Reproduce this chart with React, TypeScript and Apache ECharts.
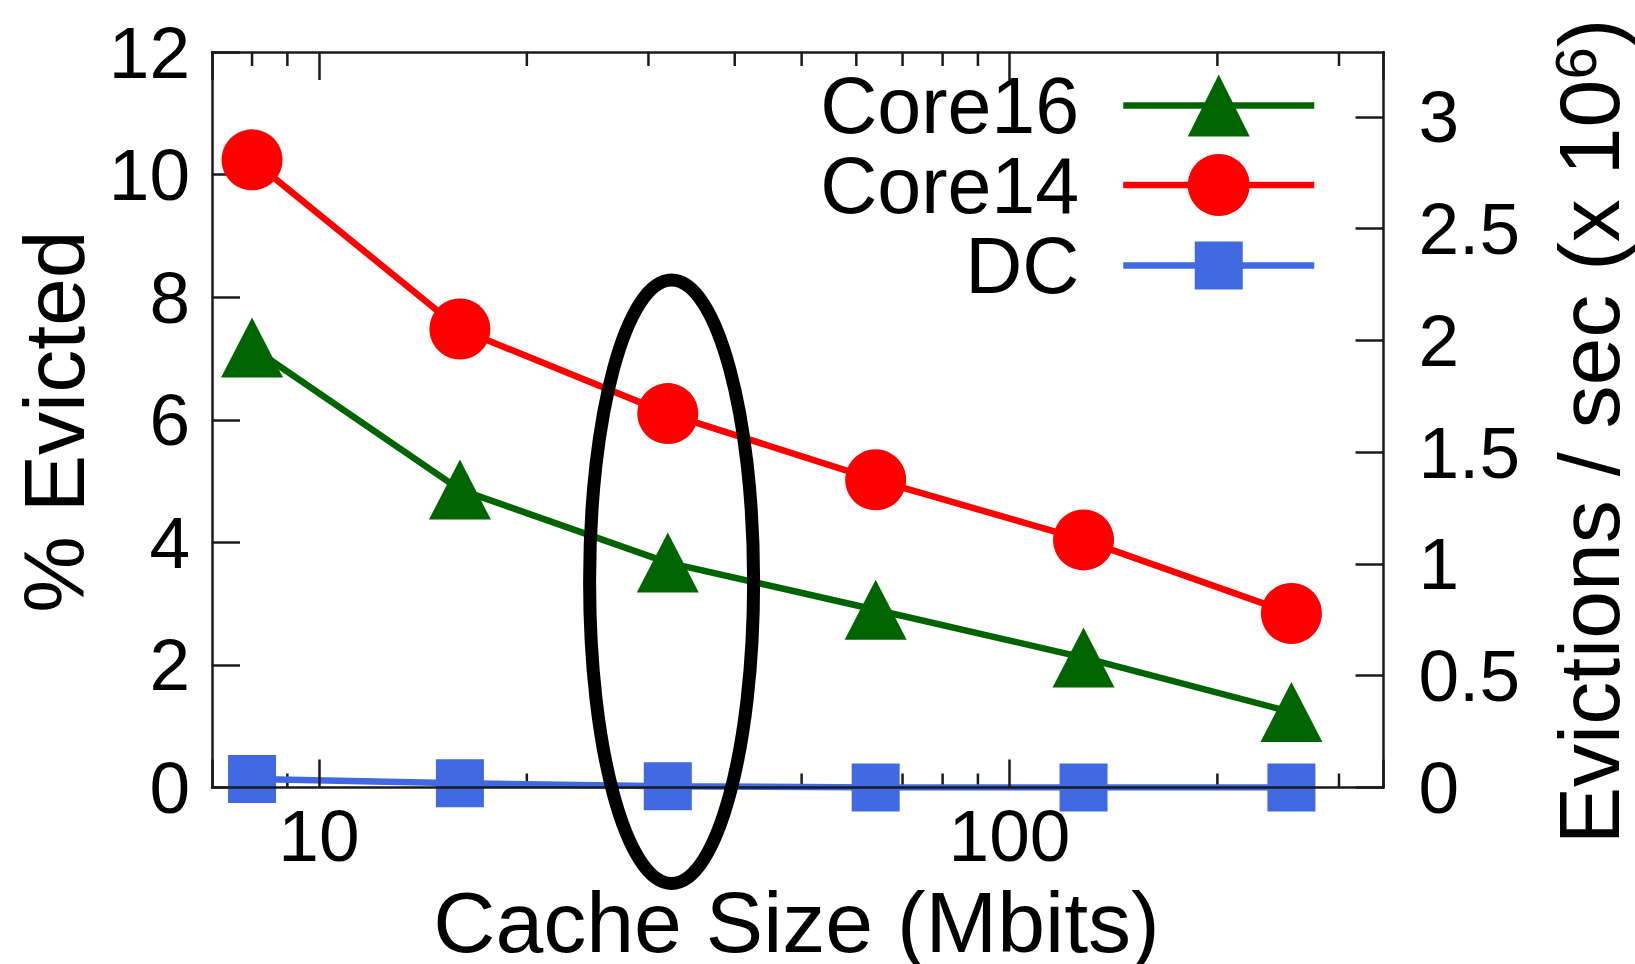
import React, { useEffect, useRef } from 'react';
import * as echarts from 'echarts';

// ---- data ----
const cacheSizes = [8, 16, 32, 64, 128, 256];
const core16 = [7.18, 4.86, 3.67, 2.9, 2.12, 1.23];
const core14 = [10.24, 7.48, 6.1, 5.02, 4.04, 2.84];
const dc = [0.14, 0.07, 0.02, 0, 0, 0];
const xMajorLabels = [10, 100];
const xMinorTicks = [8, 9, 20, 30, 40, 50, 60, 70, 80, 90, 200, 300];
const seriesNames = ['Core16', 'Core14', 'DC'];
const xTitle = 'Cache Size (Mbits)';
const yTitle = '% Evicted';
const y2TitleMain = 'Evictions / sec (x 10';
const y2TitleSup = '6';

const FONT = '"Liberation Sans", Arial, Helvetica, sans-serif';
const GREEN = '#006400';
const RED = '#ff0000';
const BLUE = '#4169e1';
const AXIS = '#1a1a1a';

export default function App() {
  const ref = useRef<HTMLDivElement>(null);

  useEffect(() => {
    document.body.style.margin = '0';
    document.body.style.overflow = 'hidden';
    if (!ref.current) return;
    const chart = echarts.init(ref.current, undefined, { renderer: 'svg' });

    const axisLineStyle = { color: AXIS, width: 2.5 };
    const tickLabel = { fontSize: 73, fontFamily: FONT, color: '#000' };

    const legendCommon = {
      orient: 'vertical',
      right: 317.5,
      align: 'right',
      itemWidth: 191,
      padding: 0,
      selectedMode: false,
      lineStyle: { width: 6.5 },
      textStyle: { fontSize: 79, lineHeight: 70, fontFamily: FONT, color: '#000', padding: [0, 39, 0, 0] },
    };

    const option: any = {
      animation: false,
      backgroundColor: '#ffffff',
      grid: { left: 212, right: 251.5, top: 52, bottom: 176.5, containLabel: false },
      xAxis: [
        {
          type: 'log',
          logBase: 10,
          min: 7,
          max: 348,
          position: 'bottom',
          z: 10,
          axisLine: { show: true, onZero: false, lineStyle: axisLineStyle },
          axisTick: { show: true, inside: true, length: 28, lineStyle: axisLineStyle },
          axisLabel: {
            ...tickLabel,
            margin: 11,
            hideOverlap: false,
            formatter: (v: number) => {
              const r = Math.round(v);
              return xMajorLabels.includes(r) && Math.abs(v - r) < 1e-6 * r + 1e-6 ? String(r) : '';
            },
          },
          splitLine: { show: false },
        },
        {
          type: 'log',
          logBase: 10,
          min: 7,
          max: 348,
          position: 'top',
          z: 10,
          axisLine: { show: true, onZero: false, lineStyle: axisLineStyle },
          axisTick: { show: true, inside: true, length: 28, lineStyle: axisLineStyle },
          axisLabel: { show: false },
          splitLine: { show: false },
        },
      ],
      yAxis: [
        {
          type: 'value',
          position: 'left',
          min: 0,
          max: 12,
          interval: 2,
          axisLine: { show: true, onZero: false, lineStyle: axisLineStyle },
          axisTick: { show: true, inside: true, length: 28, lineStyle: axisLineStyle },
          axisLabel: { ...tickLabel, margin: 22 },
          splitLine: { show: false },
        },
        {
          type: 'value',
          position: 'right',
          min: 0,
          max: 3.29,
          interval: 0.5,
          axisLine: { show: true, onZero: false, lineStyle: axisLineStyle },
          axisTick: { show: true, inside: true, length: 28, lineStyle: axisLineStyle },
          axisLabel: { ...tickLabel, margin: 35, showMaxLabel: false, formatter: (v: number) => String(v) },
          splitLine: { show: false },
        },
      ],
      legend: [
        { ...legendCommon, data: [seriesNames[0]], top: 66, itemHeight: 77.5 },
        { ...legendCommon, data: [seriesNames[1]], top: 145.5, itemHeight: 77.5 },
        { ...legendCommon, data: [seriesNames[2]], top: 226, itemHeight: 60 },
      ],
      series: [
        {
          type: 'custom',
          name: 'minor ticks',
          silent: true,
          z: 1,
          clip: false,
          xAxisIndex: 0,
          yAxisIndex: 0,
          data: xMinorTicks.map((v) => [v, 0]),
          encode: { x: 0, y: 1 },
          renderItem: (params: any, api: any) => {
            const v = api.value(0);
            const b = api.coord([v, 0]);
            const t = api.coord([v, 12]);
            return {
              type: 'group',
              children: [
                { type: 'line', shape: { x1: b[0], y1: b[1], x2: b[0], y2: b[1] - 14 }, style: { stroke: AXIS, lineWidth: 2.5 } },
                { type: 'line', shape: { x1: t[0], y1: t[1], x2: t[0], y2: t[1] + 14 }, style: { stroke: AXIS, lineWidth: 2.5 } },
              ],
            };
          },
        },
        {
          name: seriesNames[0],
          type: 'line',
          data: cacheSizes.map((x, i) => [x, core16[i]]),
          symbol: 'triangle',
          symbolSize: [62, 60],
          lineStyle: { color: GREEN, width: 6.5 },
          itemStyle: { color: GREEN },
          z: 3,
        },
        {
          name: seriesNames[1],
          type: 'line',
          data: cacheSizes.map((x, i) => [x, core14[i]]),
          symbol: 'circle',
          symbolSize: 61,
          lineStyle: { color: RED, width: 6.5 },
          itemStyle: { color: RED },
          z: 3,
        },
        {
          name: seriesNames[2],
          type: 'line',
          data: cacheSizes.map((x, i) => [x, dc[i]]),
          symbol: 'rect',
          symbolSize: 48,
          lineStyle: { color: BLUE, width: 6.5 },
          itemStyle: { color: BLUE },
          z: 3,
        },
      ],
      graphic: [
        {
          type: 'ellipse',
          silent: true,
          z: 100,
          shape: { cx: 671.6, cy: 581.7, rx: 82, ry: 301.7 },
          style: { fill: 'none', stroke: '#000', lineWidth: 13 },
        },
        {
          type: 'text',
          x: 54,
          y: 421.5,
          rotation: Math.PI / 2,
          style: {
            text: yTitle,
            fontSize: 86,
            fontFamily: FONT,
            fill: '#000',
            align: 'center',
            verticalAlign: 'middle',
            textAlign: 'center',
            textVerticalAlign: 'middle',
          },
        },
        {
          type: 'text',
          x: 796.5,
          y: 922,
          style: {
            text: xTitle,
            fontSize: 86,
            fontFamily: FONT,
            fill: '#000',
            align: 'center',
            verticalAlign: 'middle',
            textAlign: 'center',
            textVerticalAlign: 'middle',
          },
        },
        {
          type: 'text',
          x: 1589,
          y: 431.5,
          rotation: Math.PI / 2,
          style: {
            text: `{a|${y2TitleMain}}{s|${y2TitleSup}}{a|)}`,
            fontSize: 86,
            fontFamily: FONT,
            fill: '#000',
            align: 'center',
            verticalAlign: 'middle',
            textAlign: 'center',
            textVerticalAlign: 'middle',
            rich: {
              a: { fontSize: 86, fontFamily: FONT, fill: '#000', lineHeight: 86 },
              s: { fontSize: 58, fontFamily: FONT, fill: '#000', lineHeight: 30, verticalAlign: 'top' },
            },
          },
        },
      ],
    };

    chart.setOption(option);
    return () => {
      chart.dispose();
    };
  }, []);

  return <div ref={ref} style={{ width: '1635px', height: '964px' }} />;
}
